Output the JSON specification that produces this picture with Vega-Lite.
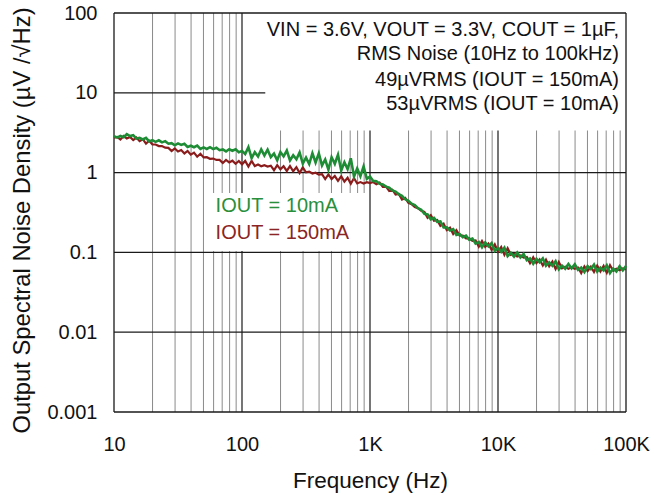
{
"$schema": "https://vega.github.io/schema/vega-lite/v6.json",
"width": 512,
"height": 399,
"autosize": {"type": "none"},
"padding": {"left": 114, "top": 13, "right": 41, "bottom": 84},
"background": "white",
"config": {"view": {"stroke": null}, "font": "Liberation Sans"},
"datasets": {
"noise": [
{"f":10,"g":2.86,"r":2.74},{"f":10.59,"g":2.74,"r":2.80},{"f":11.22,"g":2.88,"r":2.60},{"f":11.89,"g":2.78,"r":2.87},{"f":12.59,"g":3.03,"r":2.68},{"f":13.34,"g":2.87,"r":2.80},{"f":14.13,"g":2.95,"r":2.56},{"f":14.96,"g":2.67,"r":2.75},{"f":15.85,"g":2.73,"r":2.48},{"f":16.79,"g":2.60,"r":2.62},
{"f":17.78,"g":2.72,"r":2.31},{"f":18.84,"g":2.46,"r":2.51},{"f":19.95,"g":2.55,"r":2.25},{"f":21.13,"g":2.43,"r":2.25},{"f":22.39,"g":2.54,"r":2.15},{"f":23.71,"g":2.39,"r":2.15},{"f":25.12,"g":2.48,"r":2.05},{"f":26.61,"g":2.30,"r":2.04},{"f":28.18,"g":2.34,"r":1.86},{"f":29.85,"g":2.20,"r":2.01},
{"f":31.62,"g":2.32,"r":1.84},{"f":33.5,"g":2.22,"r":1.92},{"f":35.48,"g":2.30,"r":1.74},{"f":37.58,"g":2.10,"r":1.87},{"f":39.81,"g":2.17,"r":1.68},{"f":42.17,"g":2.08,"r":1.78},{"f":44.67,"g":2.18,"r":1.58},{"f":47.32,"g":1.98,"r":1.72},{"f":50.12,"g":2.07,"r":1.55},{"f":53.09,"g":1.98,"r":1.56},
{"f":56.23,"g":2.08,"r":1.49},{"f":59.57,"g":1.97,"r":1.50},{"f":63.1,"g":2.05,"r":1.44},{"f":66.83,"g":1.91,"r":1.44},{"f":70.79,"g":1.95,"r":1.32},{"f":74.99,"g":1.84,"r":1.44},{"f":79.43,"g":1.96,"r":1.34},{"f":84.14,"g":1.88,"r":1.41},{"f":89.13,"g":1.96,"r":1.29},{"f":94.41,"g":1.80,"r":1.40},
{"f":100,"g":1.87,"r":1.27},{"f":105.9,"g":1.71,"r":1.40},{"f":112.2,"g":2.08,"r":1.19},{"f":118.9,"g":1.52,"r":1.40},{"f":125.9,"g":1.80,"r":1.21},{"f":133.4,"g":1.59,"r":1.26},{"f":141.3,"g":1.95,"r":1.20},{"f":149.6,"g":1.64,"r":1.24},{"f":158.5,"g":1.94,"r":1.19},{"f":167.9,"g":1.56,"r":1.22},
{"f":177.8,"g":1.73,"r":1.07},{"f":188.4,"g":1.43,"r":1.24},{"f":199.5,"g":1.81,"r":1.10},{"f":211.3,"g":1.60,"r":1.20},{"f":223.9,"g":1.89,"r":1.05},{"f":237.1,"g":1.42,"r":1.21},{"f":251.2,"g":1.65,"r":1.04},{"f":266.1,"g":1.47,"r":1.17},{"f":281.8,"g":1.79,"r":0.986},{"f":298.5,"g":1.30,"r":1.16},
{"f":316.2,"g":1.54,"r":1.01},{"f":335,"g":1.28,"r":1.03},{"f":354.8,"g":1.75,"r":0.973},{"f":375.8,"g":1.34,"r":0.995},{"f":398.1,"g":1.74,"r":0.944},{"f":421.7,"g":1.23,"r":0.957},{"f":446.7,"g":1.46,"r":0.830},{"f":473.2,"g":1.09,"r":0.948},{"f":501.2,"g":1.56,"r":0.830},{"f":530.9,"g":1.29,"r":0.906},
{"f":562.3,"g":1.67,"r":0.789},{"f":595.7,"g":1.065,"r":0.90},{"f":631,"g":1.35,"r":0.771},{"f":668.3,"g":1.107,"r":0.863},{"f":707.9,"g":1.51,"r":0.726},{"f":749.9,"g":0.891,"r":0.851},{"f":794.3,"g":1.124,"r":0.731},{"f":841.4,"g":0.900,"r":0.760},{"f":891.3,"g":1.194,"r":0.730},{"f":944.1,"g":0.836,"r":0.759},
{"f":1000,"g":0.891,"r":0.738},{"f":1059,"g":0.787,"r":0.763},{"f":1122,"g":0.780,"r":0.716},{"f":1189,"g":0.726,"r":0.749},{"f":1259,"g":0.711,"r":0.661},{"f":1334,"g":0.667,"r":0.668},{"f":1413,"g":0.647,"r":0.588},{"f":1496,"g":0.597,"r":0.610},{"f":1585,"g":0.578,"r":0.531},{"f":1679,"g":0.535,"r":0.540},
{"f":1778,"g":0.512,"r":0.460},{"f":1884,"g":0.463,"r":0.481},{"f":1995,"g":0.443,"r":0.417},{"f":2113,"g":0.408,"r":0.403},{"f":2239,"g":0.392,"r":0.371},{"f":2371,"g":0.359,"r":0.359},{"f":2512,"g":0.342,"r":0.332},{"f":2661,"g":0.305,"r":0.322},{"f":2818,"g":0.299,"r":0.272},{"f":2985,"g":0.260,"r":0.293},
{"f":3162,"g":0.271,"r":0.249},{"f":3350,"g":0.242,"r":0.255},{"f":3548,"g":0.245,"r":0.215},{"f":3758,"g":0.205,"r":0.229},{"f":3981,"g":0.206,"r":0.190},{"f":4217,"g":0.188,"r":0.204},{"f":4467,"g":0.196,"r":0.170},{"f":4732,"g":0.165,"r":0.190},{"f":5012,"g":0.170,"r":0.163},{"f":5309,"g":0.155,"r":0.162},
{"f":5623,"g":0.162,"r":0.150},{"f":5957,"g":0.1445,"r":0.150},{"f":6310,"g":0.149,"r":0.140},{"f":6683,"g":0.129,"r":0.1416},{"f":7079,"g":0.1355,"r":0.118},{"f":7499,"g":0.116,"r":0.139},{"f":7943,"g":0.133,"r":0.1175},{"f":8414,"g":0.119,"r":0.129},{"f":8913,"g":0.131,"r":0.1076},{"f":9441,"g":0.1045,"r":0.1256},
{"f":10000,"g":0.1135,"r":0.1023},{"f":10590,"g":0.1017,"r":0.1168},{"f":11220,"g":0.1148,"r":0.0933},{"f":11890,"g":0.0897,"r":0.1129},{"f":12590,"g":0.0989,"r":0.0933},{"f":13340,"g":0.0886,"r":0.0960},{"f":14130,"g":0.100,"r":0.0891},{"f":14960,"g":0.0866,"r":0.0917},{"f":15850,"g":0.0955,"r":0.0861},{"f":16790,"g":0.0799,"r":0.0876},
{"f":17780,"g":0.0841,"r":0.0733},{"f":18840,"g":0.0720,"r":0.0866},{"f":19950,"g":0.0832,"r":0.0733},{"f":21130,"g":0.0754,"r":0.0815},{"f":22390,"g":0.0841,"r":0.0687},{"f":23710,"g":0.0680,"r":0.0811},{"f":25120,"g":0.0750,"r":0.0668},{"f":26610,"g":0.0680,"r":0.0769},{"f":28180,"g":0.0776,"r":0.0619},{"f":29850,"g":0.0613,"r":0.0757},
{"f":31620,"g":0.0684,"r":0.0631},{"f":33500,"g":0.0624,"r":0.0661},{"f":35480,"g":0.0716,"r":0.0624},{"f":37580,"g":0.0631,"r":0.0653},{"f":39810,"g":0.0708,"r":0.0624},{"f":42170,"g":0.0603,"r":0.0646},{"f":44670,"g":0.0646,"r":0.0550},{"f":47320,"g":0.0568,"r":0.0668},{"f":50120,"g":0.0673,"r":0.0582},{"f":53090,"g":0.0619,"r":0.0661},
{"f":56230,"g":0.0702,"r":0.0569},{"f":59570,"g":0.0575,"r":0.0684},{"f":63100,"g":0.0644,"r":0.0575},{"f":66830,"g":0.0593,"r":0.0676},{"f":70790,"g":0.0689,"r":0.0556},{"f":74990,"g":0.0552,"r":0.0692},{"f":79430,"g":0.0627,"r":0.0589},{"f":84140,"g":0.0577,"r":0.0624},{"f":89130,"g":0.0670,"r":0.0596},{"f":94410,"g":0.0596,"r":0.0631},
{"f":100000,"g":0.0676,"r":0.0610}
]
},
"layer": [
{
"data": {"values": [{"f":20},{"f":30},{"f":40},{"f":50},{"f":60},{"f":70},{"f":80},{"f":90},{"f":200},{"f":300},{"f":400},{"f":500},{"f":600},{"f":700},{"f":800},{"f":900},{"f":2000},{"f":3000},{"f":4000},{"f":5000},{"f":6000},{"f":7000},{"f":8000},{"f":9000},{"f":20000},{"f":30000},{"f":40000},{"f":50000},{"f":60000},{"f":70000},{"f":80000},{"f":90000}]},
"mark": {"type": "rule", "color": "#8a8a8a", "strokeWidth": 1},
"encoding": {"x": {"field": "f", "type": "quantitative", "scale": {"type": "log", "domain": [10, 100000], "nice": false},
"axis": {"values": [10, 100, 1000, 10000, 100000], "labelExpr": "datum.value >= 1000 ? (datum.value / 1000) + 'K' : '' + datum.value", "grid": false, "domain": false, "ticks": false, "labelFlush": false, "labelBound": false, "labelOverlap": false, "labelPadding": 22, "labelFontSize": 20, "labelColor": "#111111", "title": "Frequency (Hz)", "titleFontSize": 22.5, "titleFontWeight": "normal", "titleColor": "#111111", "titlePadding": 15}}}
},
{
"data": {"values": [{"f":100},{"f":1000},{"f":10000}]},
"mark": {"type": "rule", "color": "#1a1a1a", "strokeWidth": 1.2},
"encoding": {"x": {"field": "f", "type": "quantitative"}}
},
{
"data": {"values": [{"v":0.01},{"v":0.1},{"v":1},{"v":10}]},
"mark": {"type": "rule", "color": "#1a1a1a", "strokeWidth": 1.3},
"encoding": {"y": {"field": "v", "type": "quantitative", "scale": {"type": "log", "domain": [0.001, 100], "nice": false},
"axis": {"values": [0.001, 0.01, 0.1, 1, 10, 100], "format": "~g", "grid": false, "domain": false, "ticks": false, "labelFlush": false, "labelBound": false, "labelOverlap": false, "labelPadding": 17, "labelFontSize": 20, "labelColor": "#111111", "title": "Output Spectral Noise Density (µV /√Hz)", "titleFontSize": 23.8, "titleFontWeight": "normal", "titleColor": "#111111", "titleX": -92, "titleY": 207, "titleBaseline": "middle"}}}
},
{
"data": {"values": [{"x1":152,"x2":100000,"y1":3.36,"y2":100},{"x1":55,"x2":948,"y1":0.104,"y2":0.557}]},
"mark": {"type": "rect", "fill": "white", "stroke": null},
"encoding": {
"x": {"field": "x1", "type": "quantitative"},
"x2": {"field": "x2"},
"y": {"field": "y1", "type": "quantitative"},
"y2": {"field": "y2"}
}
},
{
"data": {"values": [{"f":10},{"f":100000}]},
"mark": {"type": "rule", "color": "#1a1a1a", "strokeWidth": 1.3},
"encoding": {"x": {"field": "f", "type": "quantitative"}}
},
{
"data": {"values": [{"v":0.001},{"v":100}]},
"mark": {"type": "rule", "color": "#1a1a1a", "strokeWidth": 1.3},
"encoding": {"y": {"field": "v", "type": "quantitative"}}
},
{
"data": {"name": "noise"},
"mark": {"type": "line", "color": "#8b1c1c", "strokeWidth": 2.2},
"encoding": {
"x": {"field": "f", "type": "quantitative"},
"y": {"field": "r", "type": "quantitative"}
}
},
{
"data": {"name": "noise"},
"mark": {"type": "line", "color": "#1e8c35", "strokeWidth": 2.6},
"encoding": {
"x": {"field": "f", "type": "quantitative"},
"y": {"field": "g", "type": "quantitative"}
}
},
{
"data": {"values": [
{"t": "VIN = 3.6V, VOUT = 3.3V, COUT = 1µF,", "x": 88200, "y": 61.1},
{"t": "RMS Noise (10Hz to 100kHz)", "x": 88200, "y": 30.5},
{"t": "49µVRMS (IOUT = 150mA)", "x": 88200, "y": 14.3},
{"t": "53µVRMS (IOUT = 10mA)", "x": 88200, "y": 7.14}
]},
"mark": {"type": "text", "align": "right", "baseline": "middle", "fontSize": 20, "color": "#111111"},
"encoding": {
"x": {"field": "x", "type": "quantitative"},
"y": {"field": "y", "type": "quantitative"},
"text": {"field": "t"}
}
},
{
"data": {"values": [
{"t": "IOUT = 10mA", "x": 62.2, "y": 0.382, "s": "10mA"},
{"t": "IOUT = 150mA", "x": 62.2, "y": 0.1746, "s": "150mA"}
]},
"mark": {"type": "text", "align": "left", "baseline": "middle", "fontSize": 20},
"encoding": {
"x": {"field": "x", "type": "quantitative"},
"y": {"field": "y", "type": "quantitative"},
"text": {"field": "t"},
"color": {"field": "s", "type": "nominal", "scale": {"domain": ["10mA", "150mA"], "range": ["#2a8f3c", "#8b2525"]}, "legend": null}
}
}
]
}
